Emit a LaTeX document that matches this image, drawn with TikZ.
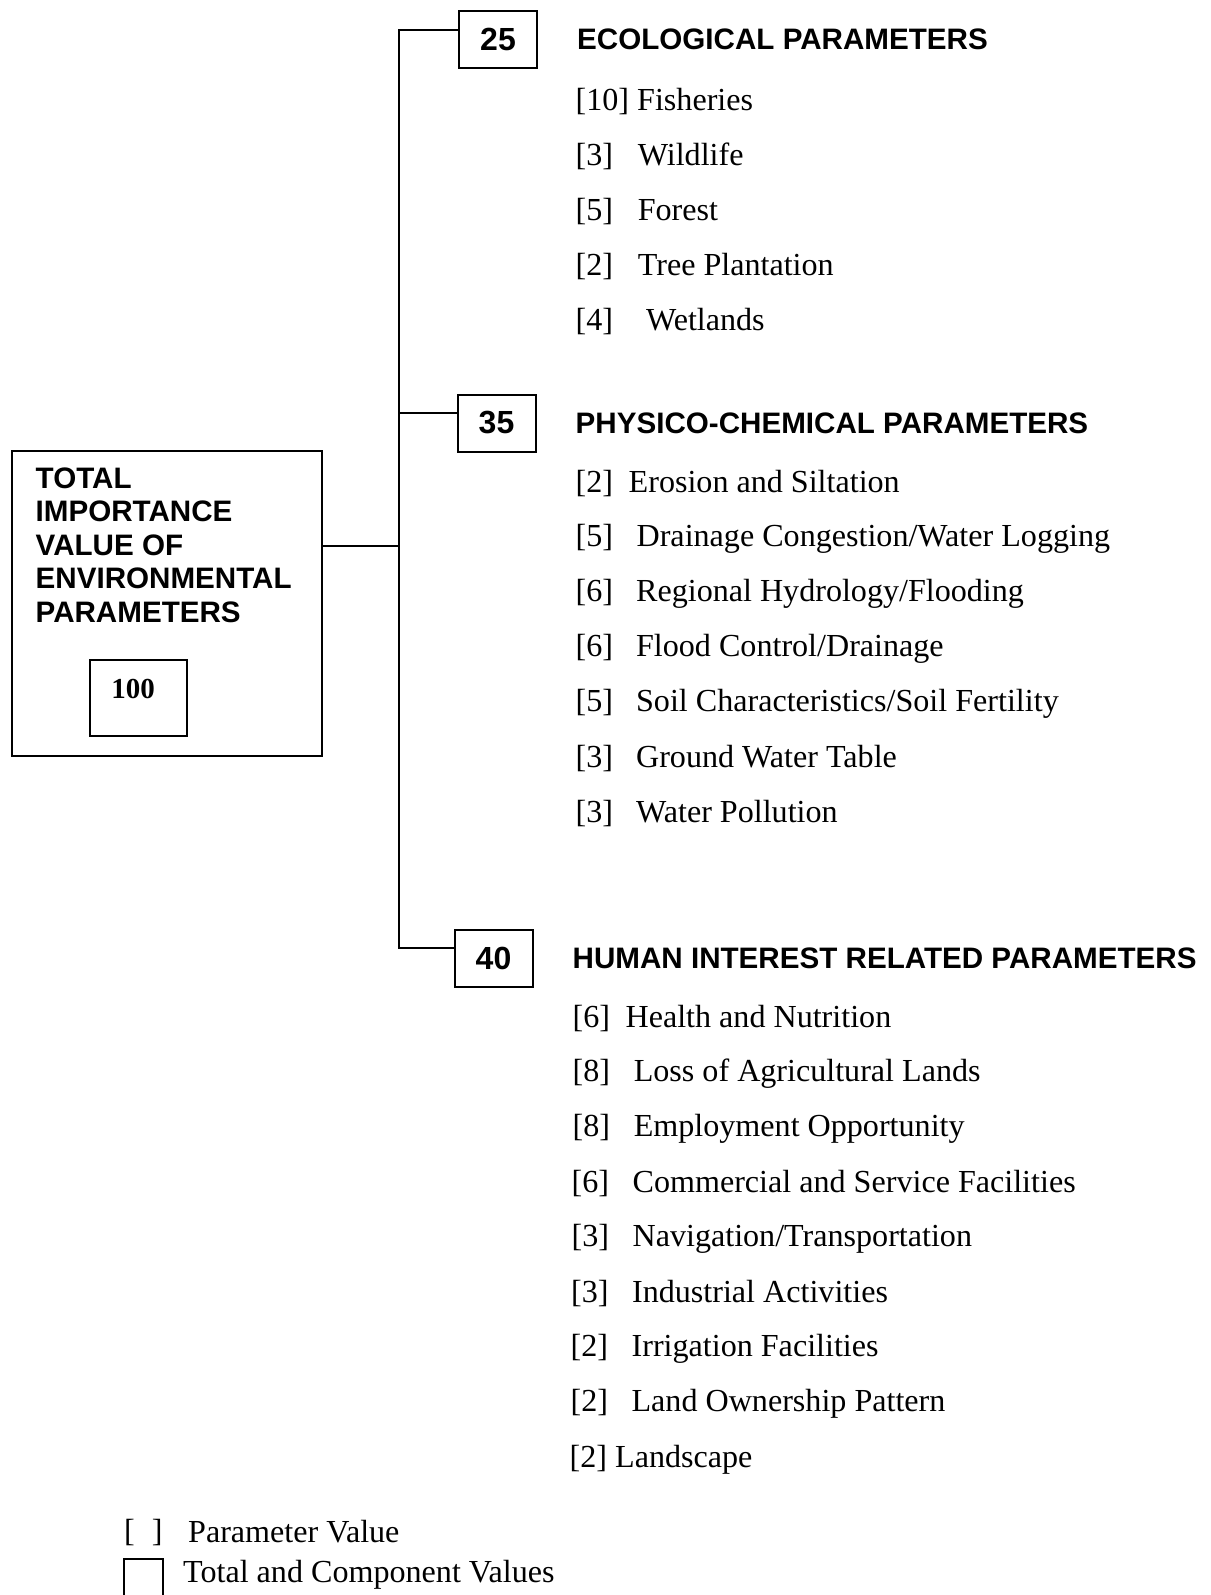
\documentclass[tikz,border=0pt]{standalone}
\usepackage{fontspec}
\setmainfont{Liberation Serif}
\setsansfont{Liberation Sans}
\usetikzlibrary{positioning}

\begin{document}
\begin{tikzpicture}[x=1pt, y=-1pt,
  valbox/.style={draw, line width=2pt, minimum width=78pt, minimum height=57pt, inner sep=0pt,
    font=\sffamily\bfseries\fontsize{32}{38}\selectfont},
  head/.style={inner sep=0pt, font=\sffamily\bfseries\fontsize{29.6}{35}\selectfont},
  itm/.style={anchor=west, inner sep=0pt, font=\fontsize{32.1}{38}\selectfont},
  link/.style={line width=2pt}]

  \useasboundingbox (0,0) rectangle (1210,1595);

  % total box
  \node[draw, line width=2pt, minimum width=310pt, minimum height=305pt] (total) at (167,603.5) {};
  \node[anchor=west, inner sep=0pt, align=left,
    font=\sffamily\bfseries\fontsize{29.6}{33.5}\selectfont] (ttl) at (35.5,545)
    {TOTAL\\IMPORTANCE\\VALUE OF\\ENVIRONMENTAL\\PARAMETERS};
  \node[draw, line width=2pt, minimum width=97pt, minimum height=76pt] (sum) at (138,698) {};
  \node[font=\bfseries\fontsize{29}{34}\selectfont] (sumval) at ([xshift=-5pt,yshift=9pt]sum.center) {100};

  % component boxes
  \node[valbox] (b25) at (498,39.5) {25};
  \node[valbox] (b35) at (496.5,423) {35};
  \node[valbox] (b40) at (493.5,958) {40};

  \node[head, right=39pt of b25] (ecohead) {ECOLOGICAL PARAMETERS};
  \node[head, right=39pt of b35] (phyhead) {PHYSICO-CHEMICAL PARAMETERS};
  \node[head, right=39pt of b40] (humhead) {HUMAN INTEREST RELATED PARAMETERS};

  % tree lines
  \coordinate (j25) at (399,30);
  \coordinate (j35) at (399,413);
  \coordinate (j40) at (399,948);
  \coordinate (jt) at (399,546);
  \draw[link] (b25.west |- j25) -- (j25) -- (j40) -- (b40.west |- j40);
  \draw[link] (j35) -- (b35.west |- j35);
  \draw[link] (total.east |- jt) -- (jt);

  % ecological
  \node[itm] (e1) at (575.5,101.5) {[10] Fisheries};
  \node[itm] (e2) at (575.5,156.5) {[3]\hspace{24.7pt}Wildlife};
  \node[itm] (e3) at (575.5,211.4) {[5]\hspace{24.7pt}Forest};
  \node[itm] (e4) at (575.5,266.3) {[2]\hspace{24.7pt}Tree Plantation};
  \node[itm] (e5) at (575.5,321.2) {[4]\hspace{32.9pt}Wetlands};

  % physico-chemical
  \node[itm] (p1) at (575.5,484)   {[2]\hspace{15.6pt}Erosion and Siltation};
  \node[itm] (p2) at (575.5,538.9) {[5]\hspace{23.5pt}Drainage Congestion/Water Logging};
  \node[itm] (p3) at (575.5,593.8) {[6]\hspace{23pt}Regional Hydrology/Flooding};
  \node[itm] (p4) at (575.5,648.7) {[6]\hspace{23pt}Flood Control/Drainage};
  \node[itm] (p5) at (575.5,703.6) {[5]\hspace{23pt}Soil Characteristics/Soil Fertility};
  \node[itm] (p6) at (575.5,758.5) {[3]\hspace{23pt}Ground Water Table};
  \node[itm] (p7) at (575.5,813.4) {[3]\hspace{23pt}Water Pollution};

  % human interest
  \node[itm] (h1) at (572.5,1018.8) {[6]\hspace{15.5pt}Health and Nutrition};
  \node[itm] (h2) at (572.5,1073.8) {[8]\hspace{23.7pt}Loss of Agricultural Lands};
  \node[itm] (h3) at (572.5,1128.8) {[8]\hspace{23.7pt}Employment Opportunity};
  \node[itm] (h4) at (571.5,1183.8) {[6]\hspace{23.5pt}Commercial and Service Facilities};
  \node[itm] (h5) at (571.5,1238.8) {[3]\hspace{23.5pt}Navigation/Transportation};
  \node[itm] (h6) at (571,1293.8)   {[3]\hspace{23.5pt}Industrial Activities};
  \node[itm] (h7) at (570.5,1348.8) {[2]\hspace{23.5pt}Irrigation Facilities};
  \node[itm] (h8) at (570.5,1403.8) {[2]\hspace{23.5pt}Land Ownership Pattern};
  \node[itm] (h9) at (569.5,1459.5) {[2] Landscape};

  % legend
  \node[itm] (lgb) at (124,1532) {[\hspace{17pt}]};
  \node[itm] (lgbt) at (188,1532) {Parameter Value};
  \draw[link] (124,1595) -- (124,1559) -- (163,1559) -- (163,1595);
  \node[itm] (lgst) at (183,1575) {Total and Component Values};
\end{tikzpicture}
\end{document}
